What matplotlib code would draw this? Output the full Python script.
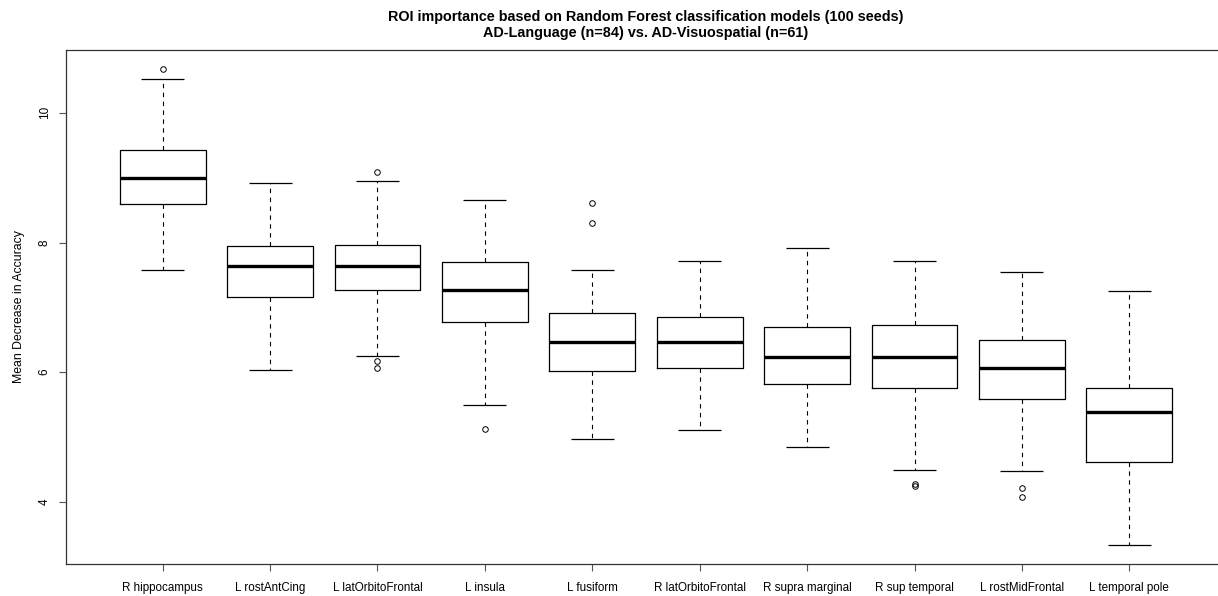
import matplotlib
matplotlib.use("Agg")
import matplotlib.pyplot as plt

# ROI importance from Random Forest
regions = ['R hippocampus', 'L rostAntCing', 'L latOrbitoFrontal', 'L insula',
           'L fusiform', 'R latOrbitoFrontal', 'R supra marginal',
           'R sup temporal', 'L rostMidFrontal', 'L temporal pole']

whisker_low  = [7.58, 6.04, 6.25, 5.49, 4.97, 5.10, 4.85, 4.49, 4.47, 3.33]
q1           = [8.60, 7.16, 7.27, 6.78, 6.02, 6.07, 5.82, 5.76, 5.59, 4.62]
medians      = [9.00, 7.64, 7.63, 7.26, 6.47, 6.46, 6.23, 6.24, 6.06, 5.38]
q3           = [9.43, 7.94, 7.96, 7.70, 6.92, 6.85, 6.70, 6.72, 6.50, 5.76]
whisker_high = [10.52, 8.92, 8.95, 8.66, 7.58, 7.71, 7.92, 7.71, 7.54, 7.25]
outliers = [[10.68], [], [9.09, 6.17, 6.06], [5.12], [8.61, 8.30],
            [], [], [4.25, 4.28], [4.21, 4.07], []]

plt.rcParams['font.family'] = ['Liberation Sans', 'DejaVu Sans']

stats = []
for i in range(len(regions)):
    stats.append({'label': regions[i], 'whislo': whisker_low[i], 'q1': q1[i],
                  'med': medians[i], 'q3': q3[i], 'whishi': whisker_high[i],
                  'fliers': outliers[i]})

fig = plt.figure(figsize=(12.18, 5.96), dpi=100)
# right edge of the box runs off the picture, like the original
ax = fig.add_axes([66/1218, 32/596, 1160/1218, 514/596])

ax.bxp(stats, positions=range(1, 11), widths=0.8, showfliers=True,
       boxprops=dict(color='black', linewidth=0.9),
       medianprops=dict(color='black', linewidth=2.4),
       whiskerprops=dict(color='black', linewidth=0.8, linestyle=(0, (4, 4))),
       capprops=dict(color='black', linewidth=0.9, solid_capstyle='butt'),
       flierprops=dict(marker='o', markerfacecolor='none', markeredgecolor='black',
                       markersize=4, markeredgewidth=0.7, linestyle='none'),
       capwidths=0.4)

ax.set_xlim(0.1, 10.9)
ax.set_ylim(3.04, 10.97)
ax.set_yticks([4, 6, 8, 10])
ax.set_yticklabels(['4', '6', '8', '10'], rotation=90, va='center', fontsize=8.5)
ax.set_xticks(range(1, 11))
ax.set_xticklabels(regions, fontsize=8.4)
ax.tick_params(axis='both', length=5, width=0.8, color='#555555')
ax.tick_params(axis='x', pad=8)
ax.tick_params(axis='y', pad=6)
for s in ax.spines.values():
    s.set_linewidth(0.9)
    s.set_color('#333333')

ax.set_ylabel('Mean Decrease in Accuracy', fontsize=8.8, labelpad=10)
ax.set_title('ROI importance based on Random Forest classification models (100 seeds)\n'
             'AD-Language (n=84) vs. AD-Visuospatial (n=61)',
             fontsize=10.4, fontweight='bold', pad=9, linespacing=1.25)

fig.savefig('out.png', dpi=100)
